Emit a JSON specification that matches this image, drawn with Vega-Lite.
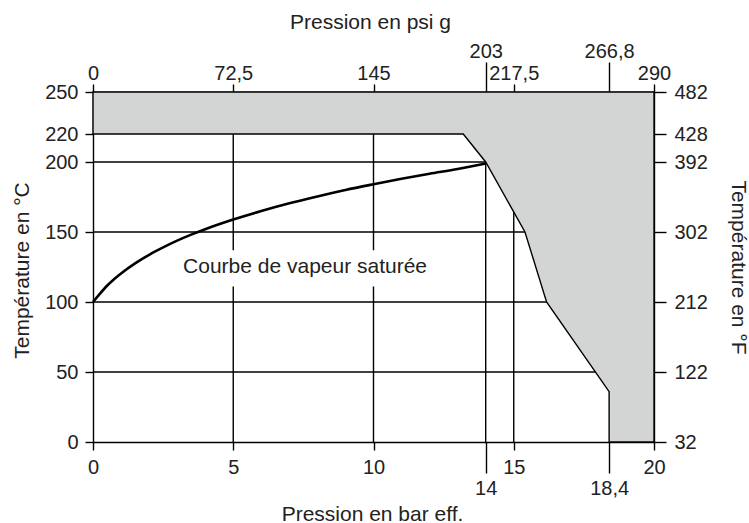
{
  "$schema": "https://vega.github.io/schema/vega-lite/v6.json",
  "width": 561,
  "height": 350,
  "autosize": {"type": "none"},
  "padding": {"left": 93, "top": 92, "right": 95, "bottom": 81},
  "background": "white",
  "config": {
    "view": {"stroke": null},
    "font": "Liberation Sans",
    "axis": {
      "grid": false,
      "domainColor": "#000000",
      "domainWidth": 1.4,
      "tickColor": "#000000",
      "tickWidth": 1.4,
      "labelFont": "Liberation Sans",
      "labelFontSize": 20,
      "labelColor": "#222222",
      "titleFont": "Liberation Sans",
      "titleFontSize": 21,
      "titleFontWeight": "normal",
      "titleColor": "#222222",
      "labelOverlap": false,
      "labelFlush": false
    }
  },
  "datasets": {
    "zone": [
      {"p": 0, "t": 220},
      {"p": 13.2, "t": 220},
      {"p": 14, "t": 200},
      {"p": 15.4, "t": 150},
      {"p": 16.17, "t": 100},
      {"p": 18.4, "t": 36},
      {"p": 18.4, "t": 0},
      {"p": 20, "t": 0}
    ],
    "steam": [
      {"p": 0, "t": 100},
      {"p": 0.25, "t": 106},
      {"p": 0.5, "t": 111.6},
      {"p": 0.75, "t": 116.3},
      {"p": 1, "t": 120.4},
      {"p": 1.5, "t": 127.6},
      {"p": 2, "t": 133.7},
      {"p": 2.5, "t": 139},
      {"p": 3, "t": 143.8},
      {"p": 3.5, "t": 148.1},
      {"p": 4, "t": 152},
      {"p": 5, "t": 158.9},
      {"p": 6, "t": 165},
      {"p": 7, "t": 170.5},
      {"p": 8, "t": 175.4},
      {"p": 9, "t": 180},
      {"p": 10, "t": 184.1},
      {"p": 11, "t": 188},
      {"p": 12, "t": 191.6},
      {"p": 13, "t": 195},
      {"p": 14, "t": 199}
    ],
    "gridH": [{"t": 50}, {"t": 100}, {"t": 150}, {"t": 200}],
    "gridV": [{"p": 5}, {"p": 10}, {"p": 14}, {"p": 15}],
    "label": [{"p": 3.1, "p2": 12.0, "t": 111, "t2": 137, "pc": 7.56, "tc": 125, "text": "Courbe de vapeur saturée"}]
  },
  "layer": [
    {
      "data": {"name": "gridH"},
      "mark": {"type": "rule", "color": "#000000", "strokeWidth": 1.4},
      "encoding": {
        "y": {"field": "t", "type": "quantitative", "scale": {"domain": [0, 250], "nice": false, "zero": false}, "axis": null}
      }
    },
    {
      "data": {"name": "gridV"},
      "mark": {"type": "rule", "color": "#000000", "strokeWidth": 1.4},
      "encoding": {
        "x": {"field": "p", "type": "quantitative", "scale": {"domain": [0, 20], "nice": false, "zero": false}, "axis": null}
      }
    },
    {
      "data": {"name": "label"},
      "mark": {"type": "rect", "fill": "white"},
      "encoding": {
        "x": {"field": "p", "type": "quantitative", "scale": {"domain": [0, 20], "nice": false, "zero": false}, "axis": null},
        "x2": {"field": "p2"},
        "y": {"field": "t", "type": "quantitative", "scale": {"domain": [0, 250], "nice": false, "zero": false}, "axis": null},
        "y2": {"field": "t2"}
      }
    },
    {
      "data": {"name": "label"},
      "mark": {"type": "text", "fontSize": 21, "font": "Liberation Sans", "color": "#222222", "align": "center", "baseline": "middle"},
      "encoding": {
        "x": {"field": "pc", "type": "quantitative", "scale": {"domain": [0, 20], "nice": false, "zero": false}, "axis": null},
        "y": {"field": "tc", "type": "quantitative", "scale": {"domain": [0, 250], "nice": false, "zero": false}, "axis": null},
        "text": {"field": "text"}
      }
    },
    {
      "data": {"name": "zone"},
      "mark": {"type": "area", "fill": "#d3d5d4", "fillOpacity": 1, "stroke": "#000000", "strokeWidth": 1.4, "interpolate": "linear"},
      "encoding": {
        "x": {
          "field": "p", "type": "quantitative",
          "scale": {"domain": [0, 20], "nice": false, "zero": false},
          "axis": {
            "orient": "bottom",
            "values": [0, 5, 10, 14, 15, 18.4, 20],
            "labelExpr": "replace(toString(datum.value), '.', ',')",
            "title": "Pression en bar eff.",
            "titleX": 279,
            "titleY": 78,
            "titleBaseline": "alphabetic",
            "labelBaseline": "alphabetic",
            "tickSize": {"condition": {"test": "datum.value == 14 || datum.value == 18.4", "value": 31}, "value": 8},
            "labelPadding": {"condition": {"test": "datum.value == 14 || datum.value == 18.4", "value": 21}, "value": 23}
          }
        },
        "y": {
          "field": "t", "type": "quantitative",
          "scale": {"domain": [0, 250], "nice": false, "zero": false},
          "axis": {
            "orient": "left",
            "values": [0, 50, 100, 150, 200, 220, 250],
            "title": "Température en °C",
            "titleX": -65,
            "titleY": 178,
            "titleBaseline": "alphabetic",
            "tickSize": 8,
            "labelPadding": 7
          }
        },
        "y2": {"datum": 250}
      }
    },
    {
      "data": {"name": "steam"},
      "mark": {"type": "line", "color": "#000000", "strokeWidth": 2.6, "interpolate": "monotone"},
      "encoding": {
        "x": {
          "field": "p", "type": "quantitative",
          "scale": {"domain": [0, 20], "nice": false, "zero": false},
          "axis": {
            "orient": "top",
            "values": [0, 5, 10, 14, 15, 18.4, 20],
            "labelExpr": "replace(toString(round(datum.value * 145) / 10), '.', ',')",
            "title": "Pression en psi g",
            "titleX": 277,
            "titleY": -64,
            "titleBaseline": "alphabetic",
            "labelBaseline": "alphabetic",
            "tickSize": {"condition": {"test": "datum.value == 14 || datum.value == 18.4", "value": 30}, "value": 8},
            "labelPadding": 5
          }
        },
        "y": {
          "field": "t", "type": "quantitative",
          "scale": {"domain": [0, 250], "nice": false, "zero": false},
          "axis": {
            "orient": "right",
            "values": [0, 50, 100, 150, 200, 220, 250],
            "labelExpr": "toString(round(datum.value * 1.8 + 32))",
            "title": "Température en °F",
            "titleX": 77,
            "titleY": 175,
            "titleBaseline": "alphabetic",
            "tickSize": 12,
            "labelPadding": 8
          }
        }
      }
    }
  ],
  "resolve": {"axis": {"x": "independent", "y": "independent"}}
}
